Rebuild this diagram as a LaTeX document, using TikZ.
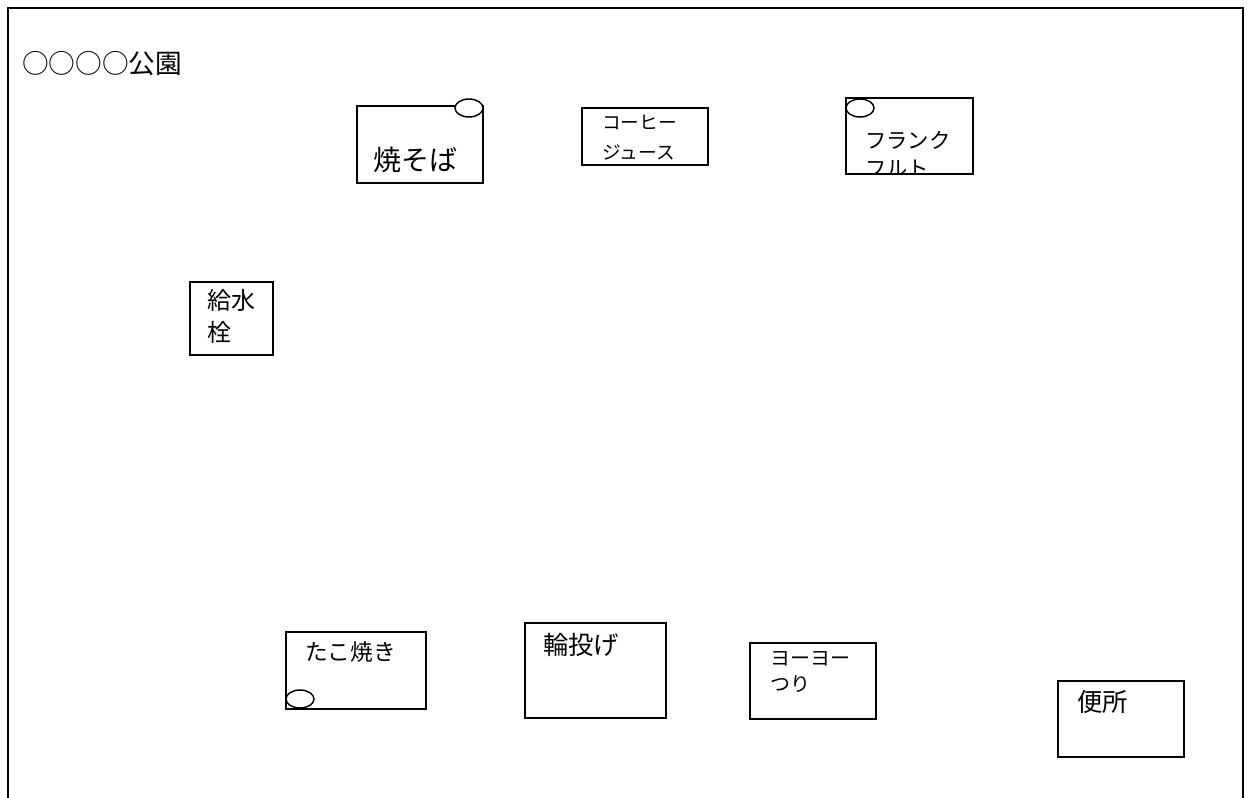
\documentclass[tikz,border=0pt]{standalone}
\usepackage{fontspec}
\setmainfont{Noto Sans CJK JP}
\usepackage{tikz}
\usetikzlibrary{positioning}
\usetikzlibrary{shapes.geometric}
\tikzset{>=latex}
\def\px{0.75pt}
\tikzstyle{stall} = [rectangle, draw, line width=1.1pt, inner sep=0]
\tikzstyle{spot} = [ellipse, draw, line width=1.1pt, inner sep=0, minimum width=28*\px, minimum height=18*\px]
\tikzstyle{txt} = [draw=none, inner sep=0, align=left, anchor=west]

\begin{document}
\begin{tikzpicture}[x=0.75pt, y=-0.75pt]
\useasboundingbox (0,0) rectangle (1253,798);
\draw [line width=1.5pt] (8,798) -- (8,8) -- (1243,8) -- (1243,798);
\node [txt, font=\fontsize{20}{24}\selectfont] (park) at (22,64) {○○○○公園};
%\node [draw=none] at (600,400) {};
\node [stall, minimum width=126*\px, minimum height=77*\px] (yakisoba) at (420,144.5) {};
\node [spot, fill=white] (yakisobaSpot) at (469,108) {};
\node [txt, font=\fontsize{21}{25}\selectfont] (yakisobaText) at (373,160) {焼そば};
\node [stall, minimum width=126*\px, minimum height=57*\px] (coffee) at (645,136.5) {};
\node [txt, font=\fontsize{14}{22}\selectfont] (coffeeText) at (602,137.5) {コーヒー\\ジュース};
\node [stall, minimum width=127*\px, minimum height=76*\px] (frank) at (909.5,136) {};
\node [spot] (frankSpot) at (860,108) {};
\begin{scope}
\clip (frank.south west) rectangle (frank.north east);
\node [txt, font=\fontsize{16}{21}\selectfont] (frankText) at (865,154) {フランク\\フルト};
\end{scope}
\node [stall, minimum width=83*\px, minimum height=73*\px] (water) at (231.5,318.5) {};
\node [txt, font=\fontsize{18}{24}\selectfont] (waterText) at (207,316) {給水\\栓};
\node [stall, minimum width=140*\px, minimum height=77*\px] (tako) at (356,670.5) {};
\node [spot] (takoSpot) at (300,699) {};
\node [txt, font=\fontsize{17}{21}\selectfont] (takoText) at (305,652) {たこ焼き};
\node [stall, minimum width=141*\px, minimum height=95*\px] (wanage) at (595.5,670.5) {};
\node [txt, font=\fontsize{19}{23}\selectfont] (wanageText) at (543,645) {輪投げ};
\node [stall, minimum width=126*\px, minimum height=76*\px] (yoyo) at (813,681) {};
\node [txt, font=\fontsize{15}{19.5}\selectfont] (yoyoText) at (770,672) {ヨーヨー\\つり};
\node [stall, minimum width=126*\px, minimum height=76*\px] (toilet) at (1121,719) {};
\node [txt, font=\fontsize{19}{23}\selectfont] (toiletText) at (1077,702) {便所};
\end{tikzpicture}
\end{document}
